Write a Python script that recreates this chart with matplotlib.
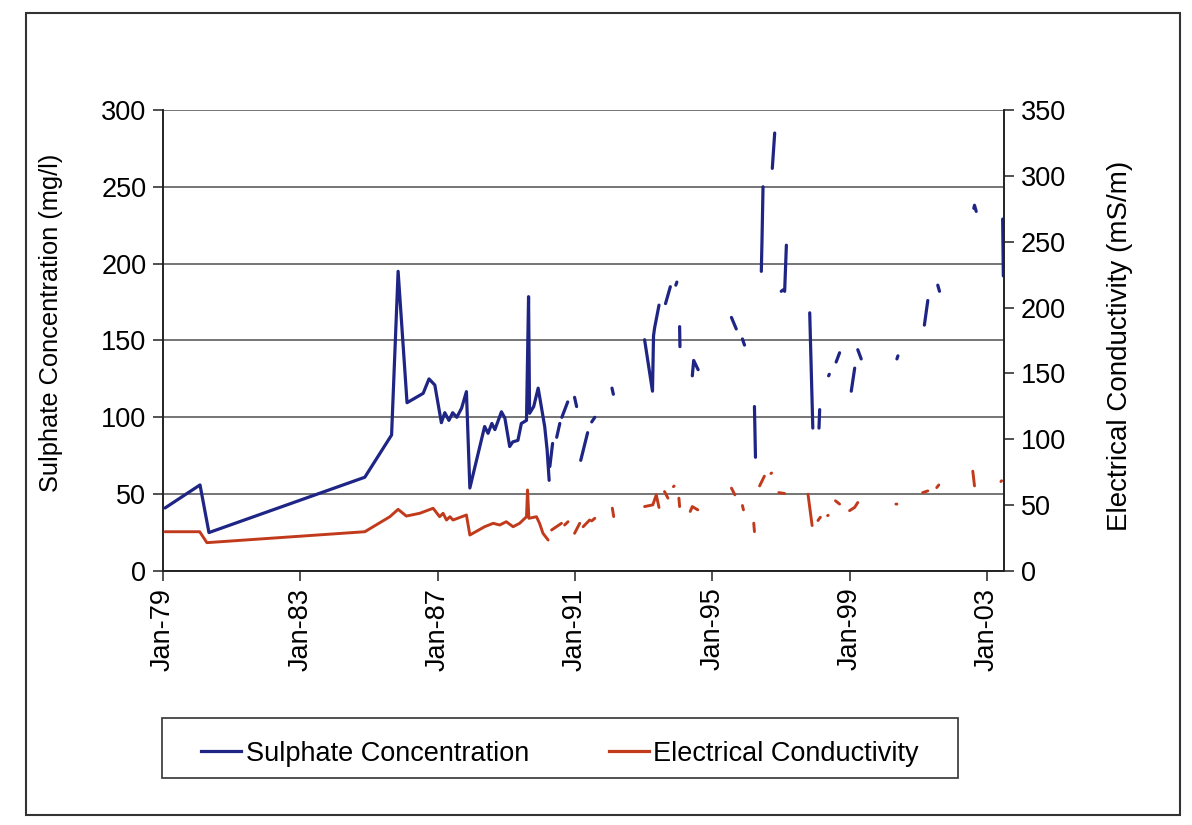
import numpy as np
import matplotlib
matplotlib.use('Agg')
import matplotlib.pyplot as plt
from matplotlib.patches import Rectangle

nan = np.nan

# sulphate concentration (mg/l), decimal years, nan = gap in record
so4_year = [1979.06, 1980.08, 1980.34, 1984.88, 1985.66, 1985.85, 1986.11, 1986.58, 1986.75, 1986.92,
            1987.11, 1987.21, 1987.33, 1987.44, 1987.56, 1987.70, 1987.84, 1987.94, 1988.37, 1988.47,
            1988.58, 1988.67, 1988.86, 1988.96, 1989.10, 1989.19, 1989.34, 1989.44, 1989.59, 1989.65,
            1989.68, 1989.80, 1989.93, 1990.02, 1990.12, 1990.19, 1990.25, 1990.26,
            1990.27, 1990.35, 1990.40,
            1990.47, 1990.56, 1990.59,
            1990.62, 1990.79, 1990.90,
            1990.99, 1991.05, 1991.10,
            1991.17, 1991.37, 1991.43,
            1991.49, 1991.58, 1991.80,
            1992.08, 1992.12, 1992.50,
            1993.03, 1993.26, 1993.29, 1993.32, 1993.45, 1993.55,
            1993.64, 1993.78, 1993.86,
            1993.94, 1993.97, 1994.00,
            1994.05, 1994.06, 1994.20,
            1994.42, 1994.46, 1994.59, 1995.00,
            1995.56, 1995.70, 1995.80,
            1995.88, 1995.94, 1996.10,
            1996.23, 1996.26, 1996.35,
            1996.43, 1996.45, 1996.48, 1996.60,
            1996.75, 1996.82, 1996.90,
            1997.01, 1997.07, 1997.11, 1997.16, 1997.50,
            1997.84, 1997.93, 1998.00,
            1998.11, 1998.13, 1998.25,
            1998.39, 1998.41, 1998.50,
            1998.61, 1998.71, 1998.90,
            1999.05, 1999.15, 1999.20,
            1999.24, 1999.34, 1999.80,
            2000.38, 2000.41, 2000.80,
            2001.18, 2001.28, 2001.45,
            2001.57, 2001.62, 2002.00,
            2002.62, 2002.64, 2002.69, 2003.00,
            2003.46, 2003.48]
so4_mgl = [41, 56, 25, 61, 88.5, 195, 109.5, 115.6, 125, 121,
           96.5, 103, 98, 103, 100, 106, 116.7, 54, 94, 89.6,
           96, 92, 103.6, 99.5, 81, 84, 85, 96, 98, 178.5,
           102.6, 107, 119, 107, 94, 79, 59, nan,
           68, 83, nan,
           87, 96, nan,
           100, 110, nan,
           113, 107, nan,
           72, 90, nan,
           97, 100, nan,
           119, 115, nan,
           150.5, 117, 153, 158, 173, nan,
           174, 185, nan,
           186, 188, nan,
           159, 146, nan,
           127, 137, 131, nan,
           165, 157.5, nan,
           151, 147, nan,
           107, 74, nan,
           195, 215, 250, nan,
           262, 285, nan,
           182, 183, 182, 212, nan,
           168, 93, nan,
           93, 105, nan,
           127, 128, nan,
           136, 142, nan,
           117, 132, nan,
           144, 138, nan,
           138, 140, nan,
           160, 176, nan,
           186, 182, nan,
           236, 238, 234, nan,
           229, 192]

# electrical conductivity (mS/m)
ec_year = [1979.06, 1980.07, 1980.28, 1984.88, 1985.61, 1985.85, 1986.09, 1986.48, 1986.87, 1987.06,
           1987.16, 1987.26, 1987.36, 1987.45, 1987.84, 1987.94, 1988.37, 1988.62, 1988.81, 1989.00,
           1989.20, 1989.39, 1989.59, 1989.62, 1989.66, 1989.88, 1989.97, 1990.07, 1990.22, 1990.27,
           1990.32, 1990.61, 1990.65,
           1990.70, 1990.80, 1990.90,
           1990.99, 1991.14, 1991.20,
           1991.24, 1991.43, 1991.46,
           1991.49, 1991.58, 1991.80,
           1992.09, 1992.13, 1992.50,
           1993.03, 1993.27, 1993.37, 1993.45, 1993.55,
           1993.61, 1993.71, 1993.80,
           1993.87, 1993.89, 1993.95,
           1994.03, 1994.05, 1994.20,
           1994.36, 1994.42, 1994.58, 1995.00,
           1995.56, 1995.66, 1995.80,
           1995.88, 1995.91, 1996.10,
           1996.21, 1996.23, 1996.30,
           1996.38, 1996.52, 1996.60,
           1996.71, 1996.73, 1996.85,
           1996.94, 1997.11, 1997.50,
           1997.79, 1997.91, 1998.00,
           1998.08, 1998.15, 1998.25,
           1998.36, 1998.38, 1998.50,
           1998.59, 1998.71, 1998.90,
           1999.00, 1999.15, 1999.24, 1999.80,
           2000.35, 2000.38, 2000.80,
           2001.13, 2001.28, 2001.45,
           2001.54, 2001.60, 2002.00,
           2002.59, 2002.64, 2003.00,
           2003.41, 2003.43]
ec_mSm = [29.8, 29.8, 21.5, 29.8, 41.2, 46.8, 41.7, 43.8, 47.6, 41.2,
          43.8, 38.7, 41.2, 38.7, 42.5, 27.3, 33.6, 36.2, 34.9, 37.4,
          33.6, 36.2, 41.2, 61.5, 40, 41.2, 36.2, 28.6, 23.5, nan,
          31.1, 36.2, nan,
          34.9, 37.4, nan,
          28.6, 36.2, nan,
          33.6, 38.7, nan,
          38, 40, nan,
          47.7, 41.3, nan,
          48.9, 50.2, 57.8, 48.2, nan,
          60.3, 55.3, nan,
          64, 64.5, nan,
          55.3, 48.9, nan,
          45.2, 48.9, 46.4, nan,
          62.9, 57.8, nan,
          49.7, 46.4, nan,
          36.3, 29.9, nan,
          64.6, 72, nan,
          74, 74.4, nan,
          59.5, 58.8, nan,
          58.3, 34.5, nan,
          38.3, 40.8, nan,
          42, 42.3, nan,
          53.3, 50.8, nan,
          45.8, 48.3, 52, nan,
          50.8, 50.8, nan,
          59.5, 60.8, nan,
          63.3, 65.3, nan,
          75.8, 64.6, nan,
          67.9, 68.5]

tick_years = [1979, 1983, 1987, 1991, 1995, 1999, 2003]
tick_labels = ['Jan-79', 'Jan-83', 'Jan-87', 'Jan-91', 'Jan-95', 'Jan-99', 'Jan-03']

blue = '#1e2585'
red = '#c23a1c'
fs = 19.5

plt.rcParams['font.family'] = ['Liberation Sans', 'DejaVu Sans']

fig = plt.figure(figsize=(11.92, 8.25), dpi=100)
ax = fig.add_axes([0.1367, 0.3079, 0.7056, 0.5588])
ax2 = ax.twinx()

ax.plot(so4_year, so4_mgl, color=blue, linewidth=2.3, solid_capstyle='round', zorder=3)
ax2.plot(ec_year, ec_mSm, color=red, linewidth=2.1, solid_capstyle='round', zorder=3)

ax.set_xlim(1979.0, 2003.5)
ax.set_ylim(0, 300)
ax2.set_ylim(0, 350)
ax.set_yticks(range(0, 301, 50))
ax2.set_yticks(range(0, 351, 50))
ax.set_xticks(tick_years)
ax.set_xticklabels(tick_labels, rotation=90)

ax.yaxis.grid(True, color='#5e5e5e', linewidth=1.2)
ax.set_axisbelow(True)

for a in (ax, ax2):
    a.spines['top'].set_visible(False)
    for s in ('left', 'right', 'bottom'):
        a.spines[s].set_color('#222222')
        a.spines[s].set_linewidth(1.2)
    a.tick_params(labelsize=fs, length=7, width=1.1, color='#222222', pad=5)

ax.set_ylabel('Sulphate Concentration (mg/l)', fontsize=18.3)
ax2.set_ylabel('Electrical Conductivity (mS/m)', fontsize=20)
ax.yaxis.set_label_coords(-0.119, 0.538)
ax2.yaxis.set_label_coords(1.1225, 0.488)

# legend below the plot, frame drawn separately
h1 = plt.Line2D([], [], color=blue, linewidth=2.3)
h2 = plt.Line2D([], [], color=red, linewidth=2.3)
fig.legend([h1, h2], ['Sulphate Concentration', 'Electrical Conductivity'],
           loc='center', bbox_to_anchor=(0.136, 0.050, 0.668, 0.073), mode='expand',
           ncol=2, fontsize=fs, frameon=False, handlelength=1.45,
           handletextpad=0.18, borderaxespad=0, borderpad=1.45)
fig.patches.append(Rectangle((0.1359, 0.0570), 0.6678, 0.0727, transform=fig.transFigure,
                             fill=False, edgecolor='#333333', linewidth=1.2))

# outer chart border
fig.patches.append(Rectangle((0.022, 0.012), 0.968, 0.972, transform=fig.transFigure,
                             fill=False, edgecolor='#333333', linewidth=1.5))

fig.savefig('out.png', dpi=100)
